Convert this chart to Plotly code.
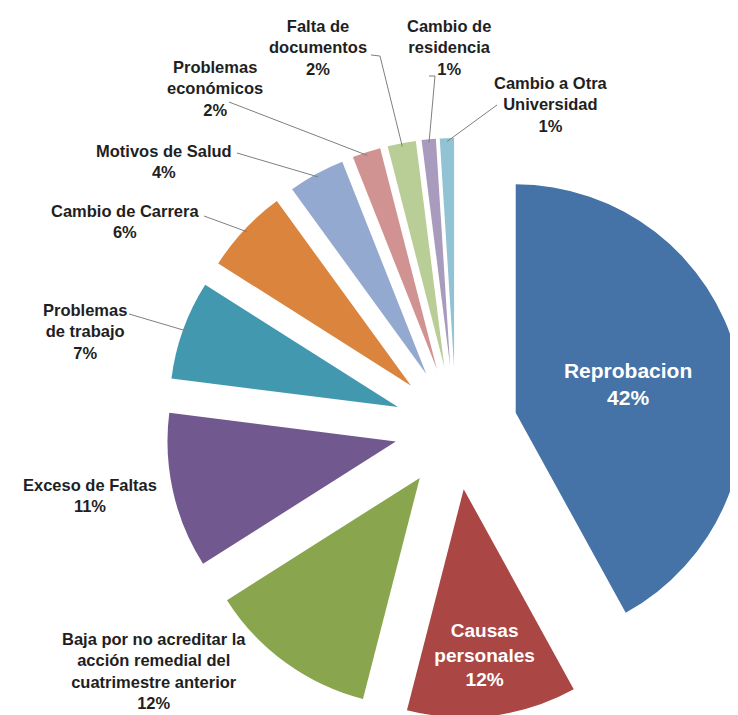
import math
import plotly.graph_objects as go

# ---- data ----
categories = [
    "Reprobacion",
    "Causas personales",
    "Baja por no acreditar la acción remedial del cuatrimestre anterior",
    "Exceso de Faltas",
    "Problemas de trabajo",
    "Cambio de Carrera",
    "Motivos de Salud",
    "Problemas económicos",
    "Falta de documentos",
    "Cambio de residencia",
    "Cambio a Otra Universidad",
]
percent_values = [42, 12, 12, 11, 7, 6, 4, 2, 2, 1, 1]
label_lines = [
    "Reprobacion",
    "Causas<br>personales",
    "Baja por no acreditar la<br>acción remedial del<br>cuatrimestre anterior",
    "Exceso de Faltas",
    "Problemas<br>de trabajo",
    "Cambio de Carrera",
    "Motivos de Salud",
    "Problemas<br>económicos",
    "Falta de<br>documentos",
    "Cambio de<br>residencia",
    "Cambio a Otra<br>Universidad",
]

# ---- styles / layout ----
colors = ["#4572A7", "#AA4643", "#89A54E", "#71588F", "#4198AF", "#DB843D",
          "#93A9CF", "#D19392", "#B9CD96", "#A99BBD", "#91C3D5"]
inside = [True, True] + [False] * 9
W, H = 738, 715
PULL = 0.27
DOM_X = [158 / W, 1.0]
DOM_Y = [5 / H, 585 / H]
FONT = "Liberation Sans, Arial, sans-serif"
TXT = "#1f1f1f"
LINE = "#7f7f7f"

# outside-label placement (pixel centre of text block) and leader start (pixel)
label_pos = {
    2: (146, 663),
    3: (82, 487),
    4: (77, 323),
    5: (117, 214),
    6: (156, 153),
    7: (207, 81),
    8: (310, 40),
    9: (441, 40),
    10: (543, 96),
}
leader_start = {
    4: [(121, 306)],
    5: [(196, 208)],
    6: [(229, 145)],
    7: [(221, 94)],
    8: [(363, 47), (372, 48)],
    9: [(421, 68), (427, 68)],
    10: [(489, 97)],
}

fig = go.Figure(go.Pie(
    labels=categories,
    values=percent_values,
    text=[t if ins else "" for t, ins in zip(label_lines, inside)],
    texttemplate="<b>%{text}<br>%{percent:.0%}</b>",
    textposition=["inside" if ins else "none" for ins in inside],
    insidetextorientation="horizontal",
    insidetextfont=dict(family=FONT, color="white", size=21),
    marker=dict(colors=colors, line=dict(width=0)),
    sort=False,
    direction="clockwise",
    rotation=0,
    pull=PULL,
    hoverinfo="label+percent",
    domain=dict(x=DOM_X, y=DOM_Y),
    showlegend=False,
))

# pie geometry as plotly computes it (domain -> centre/radius)
pw = (DOM_X[1] - DOM_X[0]) * W
ph = (DOM_Y[1] - DOM_Y[0]) * H
R = min(pw, ph) / (2 + 2 * PULL)
CX = W * (DOM_X[0] + DOM_X[1]) / 2
CY = H * (1 - (DOM_Y[0] + DOM_Y[1]) / 2)
total = sum(percent_values)


def px2paper(p):
    return p[0] / W, 1 - p[1] / H


annotations = []
shapes = []
cum = 0.0
for i, v in enumerate(percent_values):
    mid = math.radians((cum + v / 2) / total * 360)
    cum += v
    if inside[i]:
        continue
    dx, dy = math.sin(mid), -math.cos(mid)
    ax = CX + PULL * R * dx
    ay = CY + PULL * R * dy
    outer = (ax + R * 0.985 * dx, ay + R * 0.985 * dy)
    tx, ty = px2paper(label_pos[i])
    annotations.append(dict(
        x=tx, y=ty, xref="paper", yref="paper", xanchor="center", yanchor="middle",
        text="<b>%s<br>%d%%</b>" % (label_lines[i], round(v / total * 100)),
        showarrow=False, align="center",
        font=dict(family=FONT, size=16.5, color=TXT),
    ))
    if i in leader_start:
        pts = leader_start[i] + [outer]
        path = "M " + " L ".join("%f,%f" % px2paper(p) for p in pts)
        shapes.append(dict(type="path", xref="paper", yref="paper", path=path,
                           line=dict(color=LINE, width=1)))

fig.update_layout(
    width=W, height=H,
    margin=dict(l=0, r=0, t=0, b=0),
    paper_bgcolor="white",
    plot_bgcolor="white",
    annotations=annotations,
    shapes=shapes,
)
fig.write_html("out.html")
